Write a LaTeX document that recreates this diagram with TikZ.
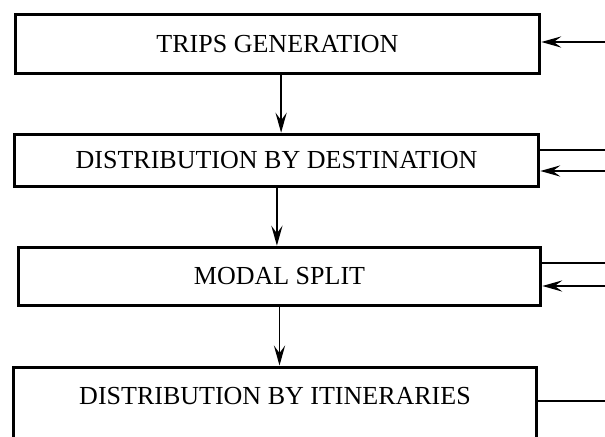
\documentclass[tikz,border=0pt]{standalone}
\usepackage{fontspec}
\setmainfont{Liberation Serif}
\usepackage{tikz}
\usetikzlibrary{arrows.meta,positioning}

\begin{document}
\begin{tikzpicture}[
  stagebox/.style={draw, line width=2.6pt, fill=white,
    minimum width=13.1cm, font=\fontsize{18.5}{22}\selectfont},
  arrow/.style={-{Stealth[length=5mm, width=2.8mm, inset=1.9mm]}, line width=1.3pt},
  link/.style={line width=1.1pt},
]
\clip (0,0) rectangle (15.125,10.9);

\node[stagebox, minimum height=1.475cm] (gen) at (6.9375,9.8) {TRIPS GENERATION};
\node[stagebox, minimum height=1.3cm] (dest) at (6.9125,6.8875) {DISTRIBUTION BY DESTINATION};
\node[stagebox, minimum height=1.45cm, minimum width=13.05cm] (modal) at (6.9875,3.9875) {MODAL SPLIT};
\node[stagebox, anchor=north, minimum width=13.075cm, text height=0.8cm, text depth=2cm] (itin) at (6.875,1.7625) {DISTRIBUTION BY ITINERARIES};

% free ends at the right edge
\coordinate (genin) at (15.125,9.85);
\coordinate (destout) at (15.125,7.15);
\coordinate (destin) at (15.125,6.625);
\coordinate (modalout) at (15.125,4.325);
\coordinate (modalin) at (15.125,3.75);
\coordinate (itinout) at (15.125,0.875);

\draw[arrow] ([xshift=0.9mm]gen.south) -- ([xshift=0.9mm]gen.south |- dest.north);
\draw[arrow] ([xshift=0.1mm]dest.south) -- ([xshift=0.1mm]dest.south |- modal.north);
\draw[arrow] (modal.south) -- (modal.south |- itin.north);

\draw[arrow] (genin) -- (genin -| gen.east);
\draw[link] (destout -| dest.east) -- (destout);
\draw[arrow] (destin) -- (destin -| dest.east);
\draw[link] (modalout -| modal.east) -- (modalout);
\draw[arrow] (modalin) -- (modalin -| modal.east);
\draw[link, line width=0.9pt] (itinout -| itin.east) -- (itinout);

\end{tikzpicture}
\end{document}
